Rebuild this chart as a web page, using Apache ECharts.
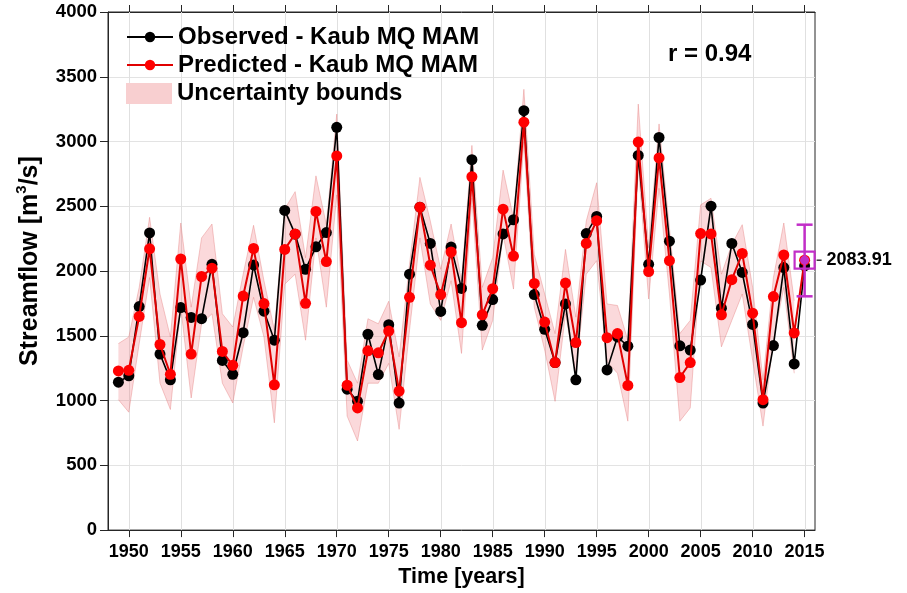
<!DOCTYPE html>
<html>
<head>
<meta charset="utf-8">
<script src="https://cdn.jsdelivr.net/npm/echarts@6.0.0/dist/echarts.min.js"></script>
<style>
html,body{margin:0;padding:0;background:#fff;}
#chart{width:907px;height:593px;}
</style>
</head>
<body>
<div id="chart"></div>
<script>
const years = [1949,1950,1951,1952,1953,1954,1955,1956,1957,1958,1959,1960,1961,1962,1963,1964,1965,1966,1967,1968,1969,1970,1971,1972,1973,1974,1975,1976,1977,1978,1979,1980,1981,1982,1983,1984,1985,1986,1987,1988,1989,1990,1991,1992,1993,1994,1995,1996,1997,1998,1999,2000,2001,2002,2003,2004,2005,2006,2007,2008,2009,2010,2011,2012,2013,2014,2015];
const observed = [1142,1191,1726,2294,1359,1160,1718,1642,1632,2052,1310,1203,1524,2047,1690,1466,2468,2285,2014,2187,2297,3110,1088,994,1512,1201,1586,981,1976,2493,2213,1688,2185,1866,2860,1581,1780,2287,2396,3238,1818,1550,1293,1746,1160,2289,2422,1237,1491,1420,2893,2052,3031,2231,1423,1390,1930,2501,1713,2213,1989,1588,981,1425,2027,1283,2040];
const predicted = [1229,1234,1650,2172,1433,1203,2093,1359,1958,2022,1379,1272,1807,2174,1749,1122,2167,2287,1751,2460,2073,2889,1119,943,1384,1369,1537,1073,1797,2493,2045,1818,2147,1601,2728,1662,1864,2478,2116,3149,1904,1606,1293,1907,1448,2213,2389,1486,1517,1117,2996,1996,2873,2080,1178,1293,2289,2287,1662,1933,2136,1675,1007,1803,2124,1522,2084];
const bandYears = [1949,1950,1951,1952,1953,1954,1955,1956,1957,1958,1959,1960,1961,1962,1963,1964,1965,1966,1967,1968,1969,1970,1971,1972,1973,1974,1975,1976,1977,1978,1979,1980,1981,1982,1983,1984,1985,1986,1987,1988,1989,1990,1991,1992,1993,1994,1995,1996,1997,1998,1999,2000,2001,2002,2003,2004,2005,2006,2007,2008,2009,2010,2011,2012,2013,2014];
const bandUpper = [1440,1491,1874,2415,1823,1491,2371,1721,2256,2363,1670,1568,1976,2353,1925,1545,2480,2613,2103,2735,2358,3212,1313,1134,1632,1593,1767,1338,2052,2723,2386,2014,2363,1925,2970,1874,2103,2779,2409,3403,2129,1823,1517,2167,1644,2386,2682,1746,1734,1466,3289,2180,3136,2333,1517,1619,2511,2562,1976,2205,2358,1874,1160,1950,2371,1772];
const bandLower = [1007,910,1440,1950,1134,931,1721,1020,1593,1670,1134,981,1415,1797,1491,828,1899,1976,1466,2256,1721,2588,880,688,1134,1134,1287,778,1543,2256,1746,1619,1925,1364,2562,1390,1619,2282,1861,2996,1721,1390,994,1670,1211,1976,2080,1300,1211,841,2817,1784,2639,1823,841,943,2078,2027,1415,1619,1823,1313,803,1466,1874,1211];
const forecastYear = [2015];
const forecastMean = [2083.91];
const forecastLow = [1805];
const forecastHigh = [2358];
const xTickLabels = [1950,1955,1960,1965,1970,1975,1980,1985,1990,1995,2000,2005,2010,2015];
const yMin = 0, yMax = 4000, yStep = 500;

const FONT = 'Liberation Sans, Arial, sans-serif';
const MAG = '#c22ec8';

const chart = echarts.init(document.getElementById('chart'), null, {renderer: 'canvas'});

const obsData = years.map((y, i) => [y, observed[i]]);
const predData = years.map((y, i) => [y, predicted[i]]);
const bandData = bandYears.map((y, i) => [y, bandLower[i], bandUpper[i]]);
const fcData = forecastYear.map((y, i) => [y, forecastMean[i], forecastLow[i], forecastHigh[i]]);

const option = {
  backgroundColor: '#fff',
  animation: false,
  textStyle: {fontFamily: FONT},
  grid: {left: 108, right: 92, top: 12, bottom: 57.5, show: true, borderColor: '#262626', borderWidth: 1, backgroundColor: 'transparent'},
  legend: [
    {
      data: ['Observed - Kaub MQ MAM', 'Predicted - Kaub MQ MAM'],
      orient: 'vertical', left: 126, top: 25, padding: 0, itemGap: 4,
      itemWidth: 46, itemHeight: 13, selectedMode: false,
      textStyle: {fontSize: 24, fontWeight: 'bold', color: '#000', fontFamily: FONT}
    },
    {
      data: [{name: 'Uncertainty bounds', icon: 'rect', itemStyle: {color: '#f8cfd0'}}],
      orient: 'vertical', left: 126, top: 81.5, padding: 0,
      itemWidth: 46, itemHeight: 21, selectedMode: false,
      textStyle: {fontSize: 24, fontWeight: 'bold', color: '#000', fontFamily: FONT}
    }
  ],
  graphic: [
    {type: 'text', left: 668, top: 42, style: {text: 'r = 0.94', fontSize: 24, fontWeight: 'bold', fill: '#000', fontFamily: FONT}}
  ],
  xAxis: [
    {
      type: 'value', min: 1948, max: 2016, position: 'bottom',
      name: 'Time [years]', nameLocation: 'middle', nameGap: 32,
      nameTextStyle: {fontSize: 21.5, fontWeight: 'bold', color: '#000', fontFamily: FONT},
      axisLine: {show: true, lineStyle: {color: '#262626', width: 1}},
      axisTick: {show: true, length: 7, inside: false, customValues: xTickLabels, lineStyle: {color: '#262626'}},
      axisLabel: {customValues: xTickLabels, margin: 13, fontSize: 18, fontWeight: 'bold', color: '#000', fontFamily: FONT, formatter: v => String(v)},
      splitLine: {show: false}
    },
    {
      type: 'value', min: 1948, max: 2016, position: 'top',
      axisLine: {show: true, lineStyle: {color: '#262626', width: 1}},
      axisTick: {show: true, length: 7, inside: false, customValues: xTickLabels, lineStyle: {color: '#262626'}},
      axisLabel: {show: false},
      splitLine: {show: false}
    }
  ],
  yAxis: {
    type: 'value', min: yMin, max: yMax, interval: yStep,
    name: 'Streamflow [m{sup|3}/s]', nameLocation: 'middle', nameGap: 62, nameRotate: 90,
    nameTextStyle: {
      fontSize: 25, fontWeight: 'bold', color: '#000', fontFamily: FONT, padding: [0, 0, 0, 20],
      rich: {sup: {fontSize: 15, fontWeight: 'bold', color: '#000', fontFamily: FONT, verticalAlign: 'top', lineHeight: 32}}
    },
    axisLine: {show: true, lineStyle: {color: '#262626', width: 1}},
    axisTick: {show: true, length: 8, inside: false, lineStyle: {color: '#262626'}},
    axisLabel: {margin: 11, fontSize: 18.5, fontWeight: 'bold', color: '#000', fontFamily: FONT, formatter: v => String(v)},
    splitLine: {show: true, lineStyle: {color: '#e3e3e3', width: 1}}
  },
  series: [
    {
      name: 'Uncertainty bounds', type: 'custom', data: bandData, z: 2, silent: true,
      itemStyle: {color: '#f8cfd0'},
      renderItem: function (params, api) {
        if (params.dataIndex !== 0) return null;
        const up = bandData.map(d => api.coord([d[0], d[2]]));
        const lo = bandData.map(d => api.coord([d[0], d[1]]));
        const poly = up.concat(lo.slice().reverse());
        const gridLines = xTickLabels.map(v => {
          const pB = api.coord([v, yMin]);
          const pT = api.coord([v, yMax]);
          const px = Math.round(pB[0]) + 0.5;
          return {type: 'line', shape: {x1: px, y1: pB[1], x2: px, y2: pT[1]}, style: {stroke: '#e0e0e0', lineWidth: 1, fill: null}};
        });
        return {
          type: 'group',
          children: gridLines.concat([
            {type: 'polygon', shape: {points: poly}, style: {fill: 'rgba(240,120,125,0.28)', stroke: 'none'}},
            {type: 'polyline', shape: {points: up}, style: {stroke: 'rgba(225,110,110,0.45)', lineWidth: 0.8, fill: 'none'}},
            {type: 'polyline', shape: {points: lo}, style: {stroke: 'rgba(225,110,110,0.45)', lineWidth: 0.8, fill: 'none'}}
          ])
        };
      }
    },
    {
      name: 'Observed - Kaub MQ MAM', type: 'line', data: obsData, xAxisIndex: 0,
      symbol: 'circle', symbolSize: 11,
      lineStyle: {color: '#000', width: 1.6}, itemStyle: {color: '#000'}, z: 3
    },
    {
      name: 'Predicted - Kaub MQ MAM', type: 'line', data: predData, xAxisIndex: 0,
      symbol: 'circle', symbolSize: 11,
      lineStyle: {color: '#e00000', width: 2}, itemStyle: {color: '#ff0000'}, z: 4
    },
    {
      name: 'forecast', type: 'custom', data: fcData, z: 6,
      renderItem: function (params, api) {
        const x = api.value(0), m = api.value(1), lo = api.value(2), hi = api.value(3);
        const pM = api.coord([x, m]);
        const pL = api.coord([x, lo]);
        const pH = api.coord([x, hi]);
        const cw = 8, sw = 10, sh = 8.5;
        return {
          type: 'group',
          children: [
            {type: 'line', shape: {x1: pL[0], y1: pL[1], x2: pH[0], y2: pH[1]}, style: {stroke: MAG, lineWidth: 2.5}},
            {type: 'line', shape: {x1: pH[0] - cw, y1: pH[1], x2: pH[0] + cw, y2: pH[1]}, style: {stroke: MAG, lineWidth: 2.5}},
            {type: 'line', shape: {x1: pL[0] - cw, y1: pL[1], x2: pL[0] + cw, y2: pL[1]}, style: {stroke: MAG, lineWidth: 2.5}},
            {type: 'rect', shape: {x: pM[0] - sw, y: pM[1] - sh, width: 2 * sw, height: 2 * sh}, style: {stroke: MAG, fill: 'rgba(0,0,0,0)', lineWidth: 2.2}},
            {type: 'circle', shape: {cx: pM[0], cy: pM[1], r: 4.5}, style: {fill: MAG}},
            {type: 'line', shape: {x1: pM[0] + 12, y1: pM[1], x2: pM[0] + 17, y2: pM[1]}, style: {stroke: '#000', lineWidth: 1.2}},
            {type: 'text', x: pM[0] + 22, y: pM[1], style: {text: m.toFixed(2), fontSize: 18, fontWeight: 'bold', fill: '#000', fontFamily: FONT, verticalAlign: 'middle', align: 'left'}}
          ]
        };
      }
    }
  ]
};
chart.setOption(option);
</script>
</body>
</html>
